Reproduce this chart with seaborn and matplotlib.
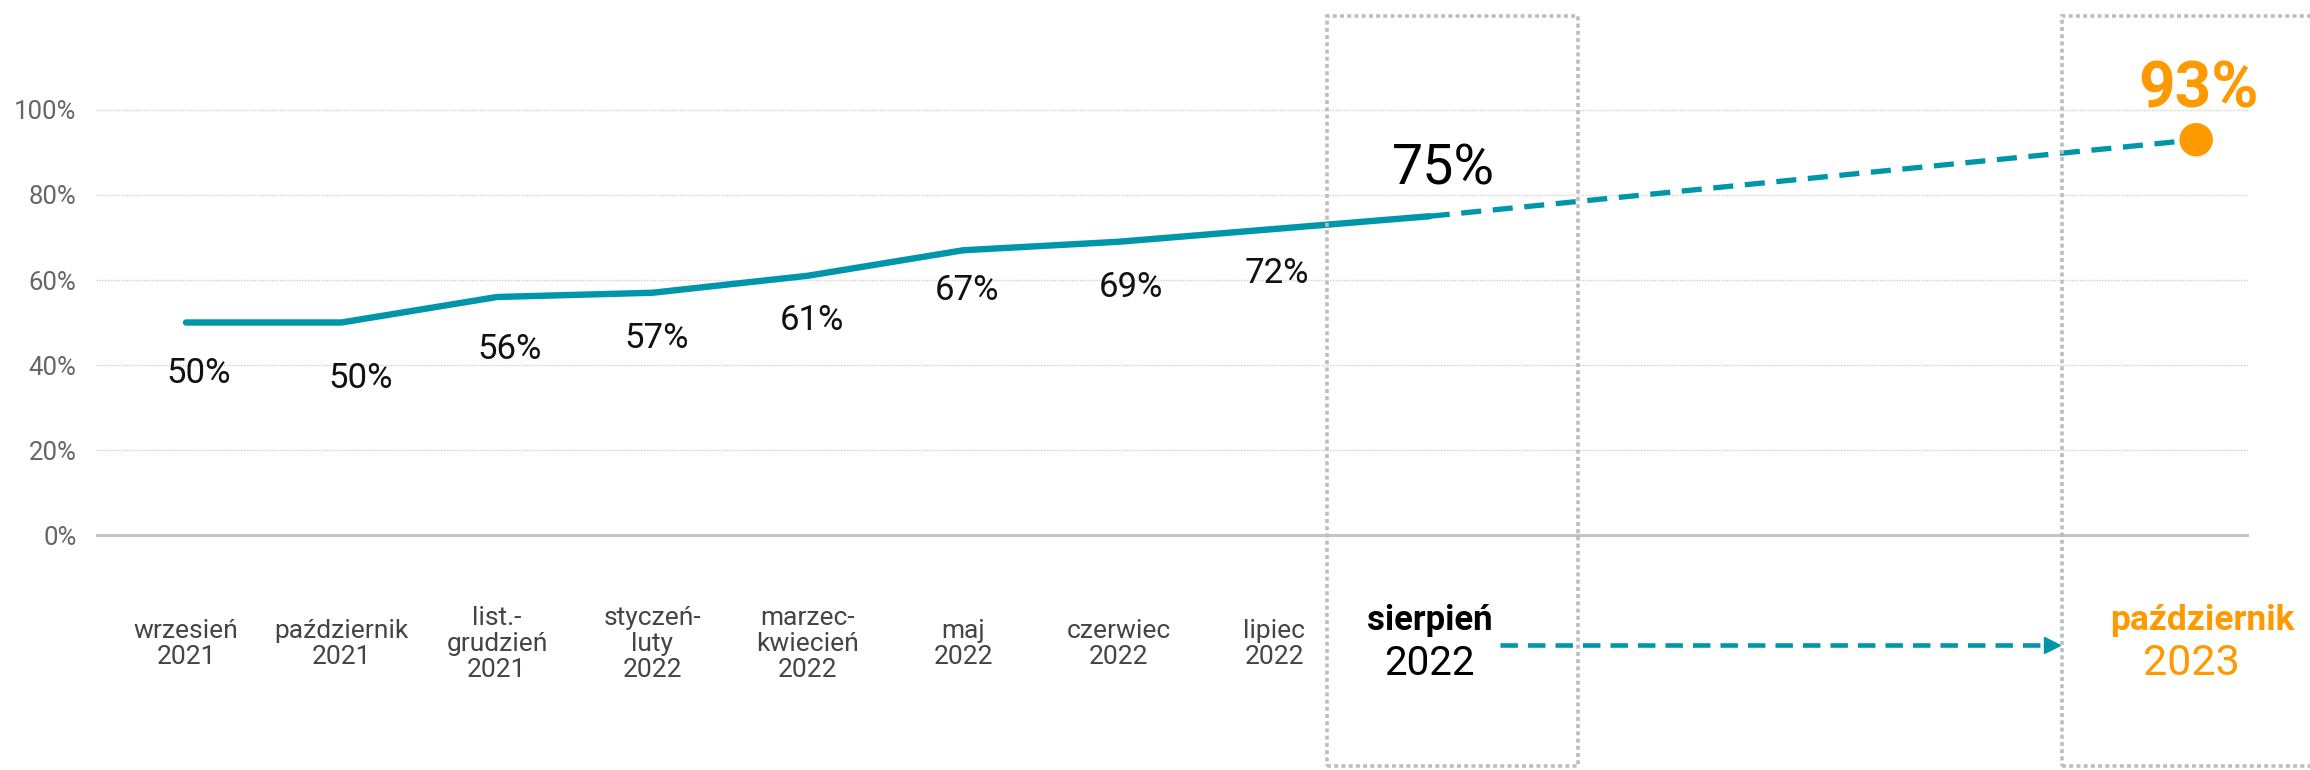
import matplotlib
matplotlib.use("Agg")
import matplotlib.pyplot as plt
import seaborn as sns
import pandas as pd
from matplotlib.patches import Rectangle

# ---------------- data ----------------
months = ["wrzesień", "październik", "list.-\ngrudzień", "styczeń-\nluty",
          "marzec-\nkwiecień", "maj", "czerwiec", "lipiec"]
years = ["2021", "2021", "2021", "2022", "2022", "2022", "2022", "2022"]
values = [50, 50, 56, 57, 61, 67, 69, 72, 75]          # last = sierpień 2022
current_month, current_year, current_value = "sierpień", "2022", 75
target_month, target_year, target_value = "październik", "2023", 93
y_ticks = [0, 20, 40, 60, 80, 100]

# ---------------- layout / style ----------------
TEAL = "#0096A9"
ORANGE = "#FF9900"
W, H, DPI = 2310, 770, 100
x_pos = list(range(len(values)))
target_x = 12.93
label_off = [(9, 37), (14, 40), (9, 38), (3, 33), (3, 32), (3, 29), (9, 33), (2, 32)]

sns.set_theme(style="white")
plt.rcParams["font.family"] = ["Roboto", "DejaVu Sans"]

fig = plt.figure(figsize=(W / DPI, H / DPI), dpi=DPI)
ax = fig.add_axes([96 / W, 0, (2249 - 96) / W, 1])
ax.set_xlim(-0.579, 13.27)
ax.set_ylim(-55.29, 125.88)

df = pd.DataFrame({"x": x_pos, "v": values})
proj = pd.DataFrame({"x": [x_pos[-1], target_x], "v": [current_value, target_value]})

# grid
for t in y_ticks[1:]:
    ax.axhline(t, color="#d0d0d0", lw=1, ls=(0, (1, 1)), zorder=0)
ax.axhline(0, color="#c4c4c4", lw=2.2, zorder=0)

sns.lineplot(data=df, x="x", y="v", ax=ax, color=TEAL, lw=4.6,
             solid_capstyle="round", zorder=3)
sns.lineplot(data=proj, x="x", y="v", ax=ax, color=TEAL, lw=3.8,
             dashes=False, zorder=3).lines[-1].set_linestyle((0, (3.8, 2.2)))
sns.scatterplot(x=[target_x], y=[target_value], ax=ax, color=ORANGE, s=580,
                edgecolor="none", zorder=4)

# data labels
for i, v in enumerate(values[:-1]):
    dx, dy = label_off[i]
    ax.annotate(f"{v}%", (x_pos[i], v), xytext=(dx, -dy), textcoords="offset points",
                ha="center", va="center", fontsize=25, color="#111111")
ax.annotate(f"{current_value}%", (x_pos[-1], current_value), xytext=(10, 34),
            textcoords="offset points", ha="center", va="center",
            fontsize=40, color="#000000")
ax.annotate(f"{target_value}%", (target_x, target_value), xytext=(2, 36),
            textcoords="offset points", ha="center", va="center",
            fontsize=46, color=ORANGE, fontweight="bold")

# y axis
ax.set_yticks(y_ticks)
ax.set_yticklabels([f"{t}%" for t in y_ticks], fontsize=18.5, color="#666666")
ax.tick_params(axis="y", length=0, pad=14)
ax.set_xticks([])
ax.set_xlabel("")
ax.set_ylabel("")
for s in ax.spines.values():
    s.set_visible(False)

# x category labels
for i, (m, y) in enumerate(zip(months, years)):
    ax.text(x_pos[i], -25.6, f"{m}\n{y}", ha="center", va="center",
            multialignment="center", fontsize=19, color="#444444", linespacing=1.1)

ax.text(x_pos[-1], -20.0, current_month, ha="center", va="center",
        fontsize=25, fontweight="bold", color="#000000")
ax.text(x_pos[-1], -30.3, current_year, ha="center", va="center",
        fontsize=29, color="#000000")
ax.text(target_x + 0.04, -20.0, target_month, ha="center", va="center",
        fontsize=25.5, fontweight="bold", color=ORANGE)
ax.text(target_x - 0.03, -30.3, target_year, ha="center", va="center",
        fontsize=31, color=ORANGE)

# dashed arrow between the two highlighted periods
ax.plot([8.45, 11.98], [-25.9, -25.9], color=TEAL, lw=3.3,
        ls=(0, (3.8, 2.2)), clip_on=False)
ax.plot([12.0], [-25.9], marker=">", color=TEAL, markersize=12, clip_on=False)

# dotted highlight boxes (figure pixel space)
def box(x0, x1, y_top, y_bot):
    fig.patches.append(Rectangle((x0 / W, 1 - y_bot / H), (x1 - x0) / W,
                                 (y_bot - y_top) / H, transform=fig.transFigure,
                                 fill=False, edgecolor="#bdbdbd", lw=2.6,
                                 ls=(0, (1.1, 0.9)), zorder=5))
box(1327, 1578, 16, 766)
box(2062, 2340, 16, 766)

fig.savefig("out.png", dpi=DPI)
